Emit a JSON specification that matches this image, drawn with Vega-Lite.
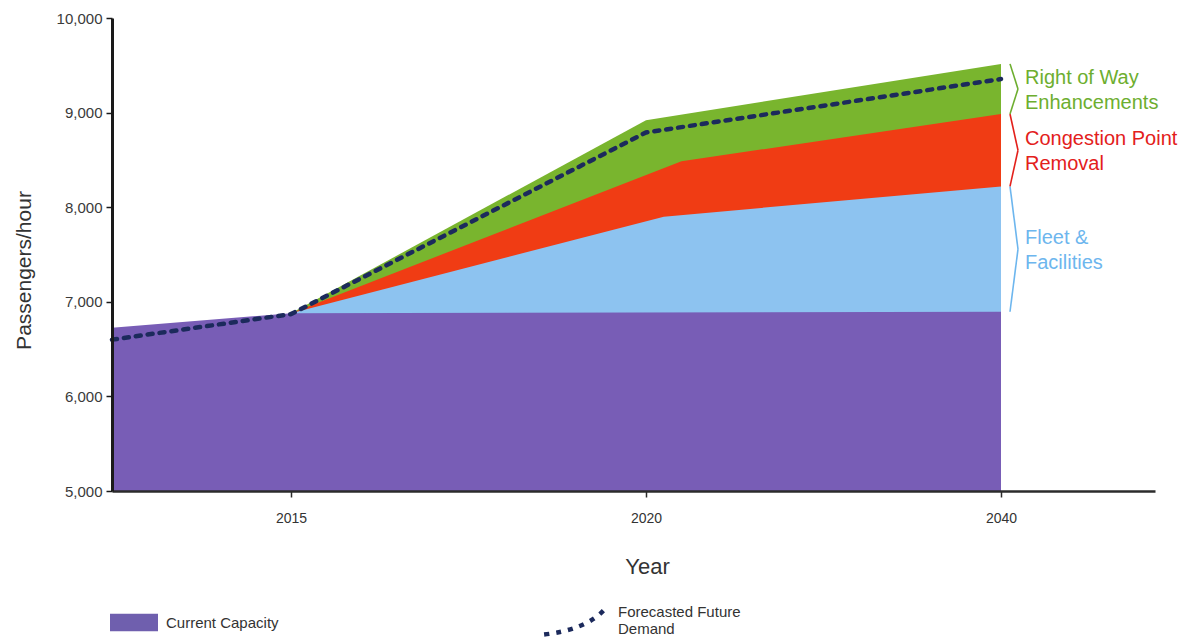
{
  "$schema": "https://vega.github.io/schema/vega-lite/v6.json",
  "width": 1043,
  "height": 473,
  "autosize": {"type": "none"},
  "padding": {"left": 112, "top": 18, "right": 41, "bottom": 148},
  "background": "white",
  "config": {
    "font": "Liberation Sans",
    "view": {"stroke": null},
    "axis": {"grid": false}
  },
  "datasets": {
    "capacity": [
      {"series": "Right of Way Enhancements", "group": "Capacity Improvement Opportunities", "year": 2015, "value": 6880},
      {"series": "Right of Way Enhancements", "group": "Capacity Improvement Opportunities", "year": 2020, "value": 8920},
      {"series": "Right of Way Enhancements", "group": "Capacity Improvement Opportunities", "year": 2040, "value": 9515},
      {"series": "Congestion Point Removal", "group": "Capacity Improvement Opportunities", "year": 2015, "value": 6880},
      {"series": "Congestion Point Removal", "group": "Capacity Improvement Opportunities", "year": 2022, "value": 8485},
      {"series": "Congestion Point Removal", "group": "Capacity Improvement Opportunities", "year": 2040, "value": 8985},
      {"series": "Fleet & Facilities", "group": "Capacity Improvement Opportunities", "year": 2015, "value": 6880},
      {"series": "Fleet & Facilities", "group": "Capacity Improvement Opportunities", "year": 2021, "value": 7900},
      {"series": "Fleet & Facilities", "group": "Capacity Improvement Opportunities", "year": 2040, "value": 8220},
      {"series": "Current Capacity", "group": "Current Capacity", "year": 2013, "value": 6725},
      {"series": "Current Capacity", "group": "Current Capacity", "year": 2015, "value": 6880},
      {"series": "Current Capacity", "group": "Current Capacity", "year": 2040, "value": 6895}
    ],
    "demand": [
      {"series": "Forecasted Future Demand", "year": 2013, "value": 6600},
      {"series": "Forecasted Future Demand", "year": 2015, "value": 6870},
      {"series": "Forecasted Future Demand", "year": 2020, "value": 8790},
      {"series": "Forecasted Future Demand", "year": 2040, "value": 9355}
    ]
  },
  "encoding": {
    "x": {
      "field": "year",
      "type": "quantitative",
      "scale": {"domain": [2013, 2015, 2020, 2040, 2049], "range": [0, 179, 534, 889, 1043], "nice": false, "zero": false},
      "axis": {
        "values": [2015, 2020, 2040],
        "format": "d",
        "title": "Year",
        "domainColor": "#2b2b2b",
        "domainWidth": 2.5,
        "tickColor": "#2b2b2b",
        "tickWidth": 1.5,
        "tickSize": 6,
        "labelFontSize": 14,
        "labelColor": "#333333",
        "labelPadding": 14,
        "labelFlush": false,
        "titleFontSize": 22,
        "titleFontWeight": "normal",
        "titleColor": "#333333",
        "titleX": 535,
        "titleY": 75,
        "titleBaseline": "middle",
        "zindex": 1
      }
    }
  },
  "layer": [
    {
      "data": {"name": "capacity"},
      "mark": {"type": "area", "interpolate": "linear"},
      "encoding": {
        "y": {
          "field": "value",
          "type": "quantitative",
          "stack": null,
          "title": "Passengers/hour",
          "scale": {"domain": [5000, 10000], "nice": false, "zero": false},
          "axis": {
            "values": [5000, 6000, 7000, 8000, 9000, 10000],
            "format": ",d",
            "title": "Passengers/hour",
            "domainColor": "#1a1a1a",
            "domainWidth": 3,
            "tickColor": "#1a1a1a",
            "tickWidth": 1.5,
            "tickSize": 6,
            "labelFontSize": 15,
            "labelColor": "#3a3a3a",
            "labelPadding": 4,
            "titleFontSize": 21,
            "titleFontWeight": "normal",
            "titleColor": "#333333",
            "titleX": -78,
            "titleY": 252,
            "zindex": 1
          }
        },
        "fill": {
          "field": "series",
          "type": "nominal",
          "scale": {
            "domain": ["Right of Way Enhancements", "Congestion Point Removal", "Fleet & Facilities", "Current Capacity"],
            "range": ["#79b52e", "#f03c14", "#8dc3f0", "#785db6"]
          },
          "legend": null
        },
        "opacity": {
          "field": "series",
          "type": "ordinal",
          "scale": {
            "domain": ["Current Capacity", "Fleet & Facilities", "Congestion Point Removal", "Right of Way Enhancements"],
            "range": [1, 1, 1, 1]
          },
          "legend": {
            "values": ["Current Capacity"],
            "title": null,
            "orient": "none",
            "legendX": -2,
            "legendY": 580.5,
            "padding": 0,
            "symbolType": "M-1,-0.36L1,-0.36L1,0.36L-1,0.36Z",
            "symbolSize": 2304,
            "symbolStrokeWidth": 0,
            "symbolFillColor": "#6f5fae",
            "labelOffset": 8,
            "labelFontSize": 15,
            "labelColor": "#333333",
            "labelLimit": 400
          }
        }
      }
    },
    {
      "data": {"name": "capacity"},
      "transform": [
        {"filter": "datum.year === 2040"},
        {"window": [{"op": "lag", "field": "value", "as": "low"}], "sort": [{"field": "value", "order": "ascending"}]},
        {"filter": "datum.group === 'Capacity Improvement Opportunities'"},
        {"calculate": "(datum.low + datum.value) / 2", "as": "mid"}
      ],
      "mark": {"type": "rule", "strokeWidth": 1.6, "xOffset": 9, "x2Offset": 17},
      "encoding": {
        "x2": {"field": "year"},
        "y": {"field": "value", "type": "quantitative", "title": "Passengers/hour"},
        "y2": {"field": "mid"},
        "color": {
          "field": "series",
          "type": "nominal",
          "scale": {
            "domain": ["Right of Way Enhancements", "Congestion Point Removal", "Fleet & Facilities"],
            "range": ["#6dae2f", "#e3201b", "#6db6ee"]
          },
          "legend": null
        }
      }
    },
    {
      "data": {"name": "capacity"},
      "transform": [
        {"filter": "datum.year === 2040"},
        {"window": [{"op": "lag", "field": "value", "as": "low"}], "sort": [{"field": "value", "order": "ascending"}]},
        {"filter": "datum.group === 'Capacity Improvement Opportunities'"},
        {"calculate": "(datum.low + datum.value) / 2", "as": "mid"}
      ],
      "mark": {"type": "rule", "strokeWidth": 1.6, "xOffset": 9, "x2Offset": 17},
      "encoding": {
        "x2": {"field": "year"},
        "y": {"field": "low", "type": "quantitative", "title": "Passengers/hour"},
        "y2": {"field": "mid"},
        "color": {"field": "series", "type": "nominal", "legend": null}
      }
    },
    {
      "data": {"name": "capacity"},
      "transform": [
        {"filter": "datum.year === 2040"},
        {"window": [{"op": "lag", "field": "value", "as": "low"}], "sort": [{"field": "value", "order": "ascending"}]},
        {"filter": "datum.group === 'Capacity Improvement Opportunities'"},
        {"calculate": "(datum.low + datum.value) / 2", "as": "mid"},
        {"calculate": "[slice(datum.series, 0, lastindexof(datum.series, ' ')), slice(datum.series, lastindexof(datum.series, ' ') + 1)]", "as": "lines"}
      ],
      "mark": {"type": "text", "align": "left", "baseline": "middle", "dx": 24, "dy": -11, "fontSize": 20, "lineHeight": 25},
      "encoding": {
        "y": {"field": "mid", "type": "quantitative", "title": "Passengers/hour"},
        "text": {"field": "lines", "type": "nominal"},
        "color": {"field": "series", "type": "nominal", "legend": null}
      }
    },
    {
      "data": {"name": "demand"},
      "mark": {"type": "line", "color": "#1c2a5c", "strokeWidth": 4.5, "strokeCap": "round"},
      "encoding": {
        "y": {"field": "value", "type": "quantitative", "title": "Passengers/hour"},
        "strokeDash": {
          "field": "series",
          "type": "nominal",
          "scale": {"range": [[5, 7]]},
          "legend": {
            "title": null,
            "orient": "none",
            "legendX": 428,
            "legendY": 559,
            "padding": 0,
            "symbolType": "M-0.95,0.72Q0.4,0.56 0.95,-0.08",
            "symbolSize": 4096,
            "symbolStrokeWidth": 4.5,
            "labelOffset": 9,
            "labelFontSize": 15,
            "labelColor": "#333333",
            "labelLimit": 400,
            "labelExpr": "[slice(datum.label, 0, lastindexof(datum.label, ' ')), slice(datum.label, lastindexof(datum.label, ' ') + 1)]",
            "encode": {
              "symbols": {
                "stroke": {"value": "#1c2a5c"},
                "fill": {"value": "transparent"},
                "strokeCap": {"value": "round"}
              },
              "labels": {"lineHeight": {"value": 21}}
            }
          }
        }
      }
    }
  ]
}
